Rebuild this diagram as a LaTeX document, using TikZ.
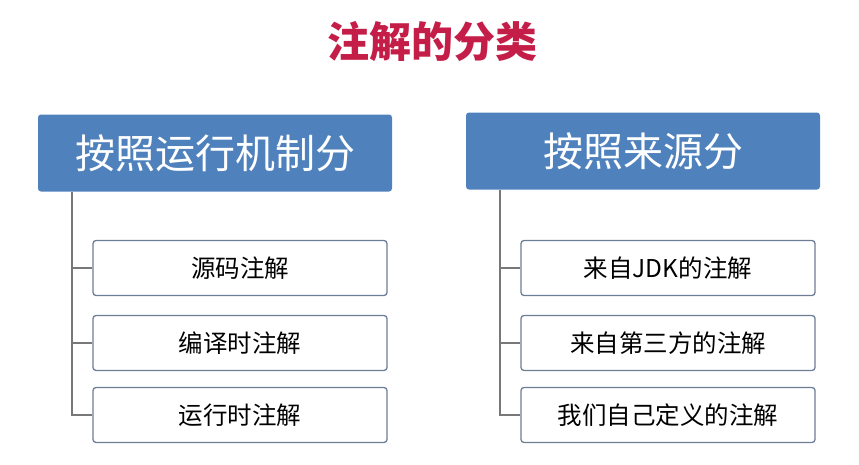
\documentclass[tikz,border=0pt]{standalone}
\usepackage{fontspec}
\setmainfont{Noto Sans CJK SC}
\usetikzlibrary{positioning}
\definecolor{mtitle}{RGB}{196,30,72}
\definecolor{mhead}{RGB}{79,129,189}
\definecolor{mline}{RGB}{120,120,120}
\definecolor{mborder}{RGB}{110,125,150}
\tikzset{
  headbox/.style={fill=mhead, rounded corners=3pt, minimum width=354pt, minimum height=77pt,
    text=white, font=\fontsize{40}{46}\selectfont},
  itembox/.style={draw=mborder, line width=1.3pt, fill=white, rounded corners=3pt,
    minimum width=294pt, minimum height=55pt, font=\fontsize{24.5}{28}\selectfont},
  branch/.style={draw=mline, line width=1.3pt}
}
\begin{document}
\begin{tikzpicture}[x=1pt,y=1pt]
  \useasboundingbox (0,0) rectangle (859,-464);
  \node[text=mtitle, font=\fontsize{42}{48}\selectfont\bfseries] (title) at (432,-42) {注解的分类};
  % left column
  \node[headbox] (runtime) at (215,-153) {按照运行机制分};
  \node[itembox] (src) at (240,-268) {源码注解};
  \node[itembox] (comp) at (240,-343) {编译时注解};
  \node[itembox] (run) at (240,-415) {运行时注解};
  \coordinate (lt) at (72,-192);
  \draw[branch] (lt) |- (run.west);
  \foreach \n in {src,comp} \draw[branch] (lt |- \n.west) -- (\n.west);
  % right column
  \node[headbox] (source) at (643,-151) {按照来源分};
  \node[itembox] (jdk) at (668,-268) {来自JDK的注解};
  \node[itembox] (third) at (668,-343) {来自第三方的注解};
  \node[itembox] (self) at (668,-415) {我们自己定义的注解};
  \coordinate (rt) at (500,-190);
  \draw[branch] (rt) |- (self.west);
  \foreach \n in {jdk,third} \draw[branch] (rt |- \n.west) -- (\n.west);
\end{tikzpicture}
\end{document}
